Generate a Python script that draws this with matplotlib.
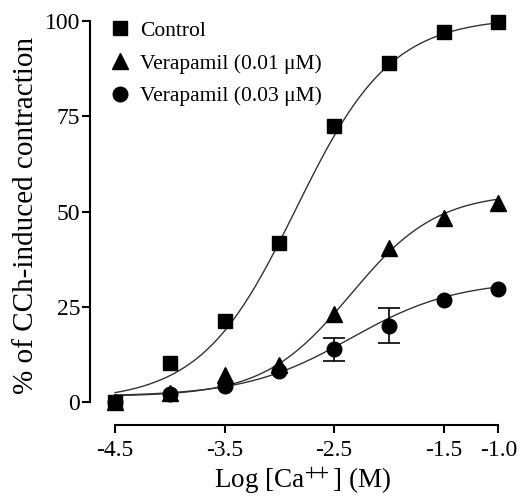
import numpy as np
import matplotlib
matplotlib.use("Agg")
import matplotlib.pyplot as plt

plt.rcParams['font.family'] = ['Liberation Serif', 'DejaVu Serif']
plt.rcParams['mathtext.fontset'] = 'stix'

# log [Ca++] doses
log_ca = [-4.5, -4.0, -3.5, -3.0, -2.5, -2.0, -1.5, -1.0]

control = [0.0, 10.2, 21.3, 41.7, 72.4, 89.0, 97.1, 99.8]
control_err = [0, 0, 0, 0, 0, 0, 0, 0]
vera_001 = [0.0, 2.5, 7.0, 9.8, 23.2, 40.4, 48.3, 52.3]
vera_001_err = [0, 0, 0, 0, 0, 0, 0, 0]
vera_003 = [0.0, 2.2, 4.3, 8.3, 13.9, 20.0, 26.8, 29.7]
vera_003_err = [0, 0, 0, 0, 3.0, 4.6, 0, 0]

# fitted sigmoid parameters: bottom, top, logEC50, hill slope
control_fit = [0.3, 101.0, -2.85, 1.0]
vera_001_fit = [1.5, 55.0, -2.35, 1.1]
vera_003_fit = [1.5, 32.0, -2.35, 0.9]

labels = ['Control', 'Verapamil (0.01 \u03bcM)', 'Verapamil (0.03 \u03bcM)']
markers = ['s', '^', 'o']
msizes = [10, 11, 10.5]


def sigmoid(x, p):
    bottom, top, ec50, hill = p
    return bottom + (top - bottom) / (1 + 10 ** ((ec50 - x) * hill))


fig = plt.figure(figsize=(5.2, 5.0), dpi=100)
ax = fig.add_axes([0.173, 0.15, 0.817, 0.838])

xs = np.linspace(-4.5, -1.0, 200)
series = [(control, control_err, control_fit),
          (vera_001, vera_001_err, vera_001_fit),
          (vera_003, vera_003_err, vera_003_fit)]

for i, (vals, errs, fit) in enumerate(series):
    ax.plot(xs, sigmoid(xs, fit), color='#333333', lw=1.0, zorder=2)
    ax.plot(log_ca, vals, markers[i], ms=msizes[i], color='black',
            label=labels[i], zorder=3)
    idx = [j for j, e in enumerate(errs) if e > 0]
    if idx:
        ax.errorbar([log_ca[j] for j in idx], [vals[j] for j in idx],
                    yerr=[errs[j] for j in idx], fmt='none', ecolor='black',
                    elinewidth=1.2, capsize=8, capthick=1.2, zorder=3)

ax.set_xlim(-4.73, -0.85)
ax.set_ylim(-6, 104)
ax.spines['top'].set_visible(False)
ax.spines['right'].set_visible(False)
ax.spines['left'].set_bounds(0, 100)
ax.spines['bottom'].set_bounds(-4.5, -1.0)
for s in ['left', 'bottom']:
    ax.spines[s].set_linewidth(1.5)

ax.set_xticks([-4.5, -3.5, -2.5, -1.5, -1.0])
ax.set_xticklabels(['-4.5', '-3.5', '-2.5', '-1.5', '-1.0'])
ax.set_yticks([0, 25, 50, 75, 100])
ax.tick_params(direction='out', length=6, width=1.5, labelsize=17)
ax.tick_params(axis='y', pad=1)
ax.tick_params(axis='x', pad=5)

ax.set_xlabel('Log [Ca$^{+\\!\\!+}$] (M)', fontsize=19.5, labelpad=3)
ax.set_ylabel('% of CCh-induced contraction', fontsize=21, labelpad=4)

ax.legend(loc='upper left', frameon=False, fontsize=15.5, handletextpad=0.35,
          labelspacing=0.58, borderaxespad=0.0, bbox_to_anchor=(0.02, 0.985),
          handlelength=1.2)

fig.savefig('out.png', dpi=100)
